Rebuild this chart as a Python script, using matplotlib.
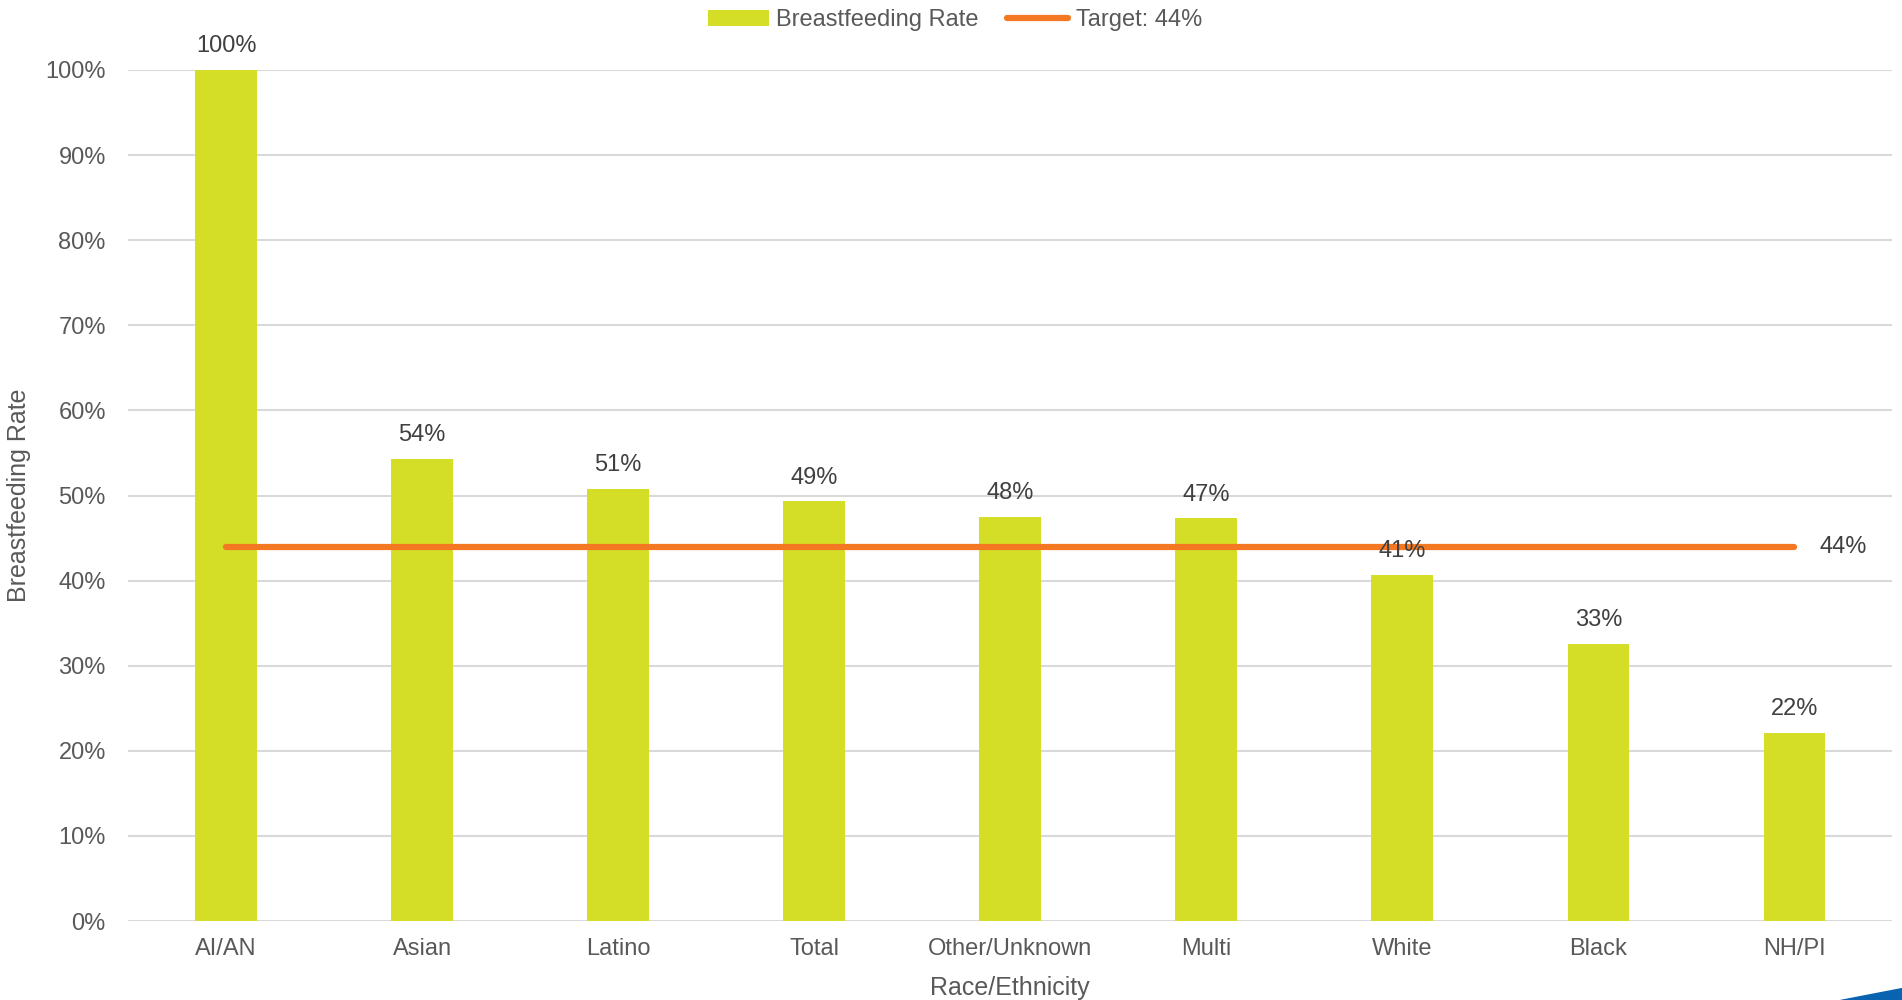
import matplotlib
matplotlib.use('Agg')
import matplotlib.pyplot as plt
from matplotlib.patches import Polygon
from matplotlib.ticker import PercentFormatter

plt.rcParams['font.family'] = ['Liberation Sans', 'DejaVu Sans']

categories = ['AI/AN', 'Asian', 'Latino', 'Total', 'Other/Unknown', 'Multi',
              'White', 'Black', 'NH/PI']
rates = [100.0, 54.3, 50.8, 49.3, 47.5, 47.3, 40.7, 32.6, 22.1]
target = 44

BAR = '#d5de27'
ORANGE = '#f47721'
GRAY = '#595959'

fig = plt.figure(figsize=(19.02, 10), dpi=100)
ax = fig.add_axes([0.0673, 0.079, 0.9277, 0.851])

x = list(range(len(categories)))
bars = ax.bar(x, rates, width=0.315, color=BAR, label='Breastfeeding Rate',
              zorder=2)
line, = ax.plot([x[0], x[-1]], [target, target], color=ORANGE, lw=4.5,
                solid_capstyle='round', label=f'Target: {target}%', zorder=3)

for xi, v in zip(x, rates):
    ax.text(xi, v + 1.5, f'{round(v)}%', ha='center', va='bottom',
            fontsize=17, color='#404040', clip_on=False)
ax.text(x[-1] + 0.13, target, f'{target}%', ha='left', va='center',
        fontsize=17, color='#404040')

ax.set_xlim(-0.5, len(categories) - 0.5)
ax.set_ylim(0, 100)
ax.set_yticks(range(0, 101, 10))
ax.yaxis.set_major_formatter(PercentFormatter(decimals=0))
ax.set_xticks(x)
ax.set_xticklabels(categories)
ax.tick_params(axis='both', length=0, labelsize=17, labelcolor=GRAY)
ax.tick_params(axis='y', pad=16)
ax.tick_params(axis='x', pad=12)
ax.grid(axis='y', color='#d9d9d9', lw=1.5, zorder=0)
ax.set_axisbelow(True)
for s in ax.spines.values():
    s.set_visible(False)

ax.set_xlabel('Race/Ethnicity', fontsize=18, color=GRAY, labelpad=12)
ax.set_ylabel('Breastfeeding Rate', fontsize=18, color=GRAY, labelpad=10)

fig.legend([bars, line], ['Breastfeeding Rate', f'Target: {target}%'],
           loc='upper center', bbox_to_anchor=(0.502, 1.012), ncol=2,
           frameon=False, fontsize=17, labelcolor=GRAY, handlelength=2.6,
           columnspacing=1.2, handletextpad=0.3)

fig.patches.append(Polygon([[1840 / 1902, 0], [1, 0], [1, 0.012]],
                           closed=True, transform=fig.transFigure,
                           color='#0a63b0'))

fig.savefig('out.png', dpi=100)
